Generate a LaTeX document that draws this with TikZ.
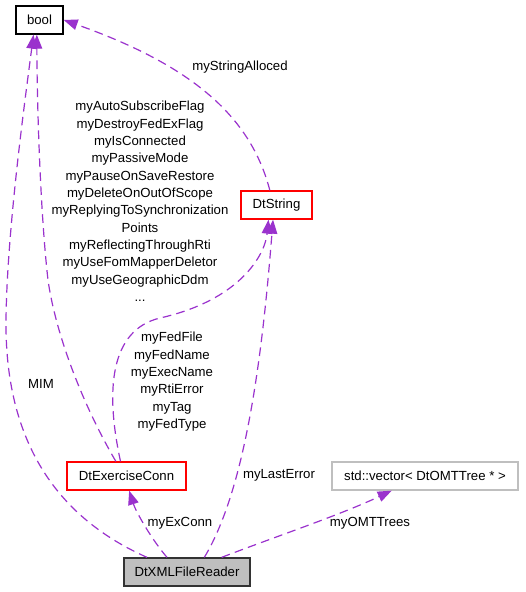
\documentclass[tikz,border=0pt]{standalone}
\usepackage{fontspec}
\setmainfont{Liberation Sans}
\usetikzlibrary{arrows.meta}
\definecolor{edgepurple}{HTML}{9A32CD}
\definecolor{boxgrey}{HTML}{BFBFBF}
\begin{document}
\begin{tikzpicture}[x=0.75pt,y=-0.75pt,
  every node/.style={font=\fontsize{9.9pt}{13pt}\selectfont},
  cls/.style={draw, line width=1pt, inner sep=0pt, minimum height=21pt, anchor=center},
  redcls/.style={cls, draw=red},
  greycls/.style={cls, draw=boxgrey},
  maincls/.style={cls, draw=black!80, fill=boxgrey},
  uses/.style={draw=edgepurple, line width=0.9pt, dash pattern=on 6.5pt off 4pt,
    -{Triangle[length=10.5pt,width=8pt,fill=edgepurple]}},
  lbl/.style={align=center, inner sep=0pt}
]
\useasboundingbox (0,0) rectangle (525,592);

\node[cls, minimum width=35.25pt] (bool) at (39.5,20) {bool};
\node[redcls, minimum width=53.25pt] (dtstring) at (276.5,205) {DtString};
\node[redcls, minimum width=89.25pt] (exconn) at (126.5,476) {DtExerciseConn};
\node[greycls, minimum width=139.5pt] (vec) at (425,476) {std::vector< DtOMTTree * >};
\node[maincls, minimum width=94.5pt] (reader) at (187,572) {DtXMLFileReader};

% MIM
\draw[uses] ([xshift=-30pt]reader.north) .. controls (40,510) and (5,420) .. (6,320)
  .. controls (7,230) and (25,100) .. ([xshift=-4.5pt]bool.south);
% bool flags from DtExerciseConn
\draw[uses] ([xshift=-8pt]exconn.north) .. controls (80,400) and (55,330) .. (48,280)
  .. controls (40,210) and (37,100) .. ([xshift=-2pt]bool.south);
% myStringAlloced
\draw[uses] ([xshift=-5pt]dtstring.north) .. controls (252,122) and (200,68) .. (bool.east);
% DtExerciseConn -> DtString
\draw[uses] ([xshift=-4.5pt]exconn.north) .. controls (105,390) and (110,330) .. (160,318)
  .. controls (240,300) and (265,255) .. ([xshift=-6pt]dtstring.south);
% myLastError
\draw[uses] ([xshift=13pt]reader.north) .. controls (245,490) and (262,360) .. ([xshift=-2.6pt]dtstring.south);
% myExConn
\draw[uses] ([xshift=-15pt]reader.north) .. controls (152,540) and (136,512) .. ([xshift=2pt]exconn.south);
% myOMTTrees
\draw[uses] ([xshift=26pt]reader.north) .. controls (280,535) and (340,515) .. ([xshift=-25pt]vec.south);

\node[lbl] (lstr) at (240,67) {myStringAlloced};
\node[lbl, anchor=north] (lbool) at (140,101) {myAutoSubscribeFlag\\myDestroyFedExFlag\\myIsConnected\\myPassiveMode\\myPauseOnSaveRestore\\myDeleteOnOutOfScope\\myReplyingToSynchronization\\Points\\myReflectingThroughRti\\myUseFomMapperDeletor\\myUseGeographicDdm\\...};
\node[lbl, anchor=north] (lfed) at (172,332) {myFedFile\\myFedName\\myExecName\\myRtiError\\myTag\\myFedType};
\node[lbl] (lmim) at (41,384) {MIM};
\node[lbl] (llast) at (279,475) {myLastError};
\node[lbl] (lex) at (180,523) {myExConn};
\node[lbl] (lomt) at (370,523) {myOMTTrees};
\end{tikzpicture}
\end{document}
